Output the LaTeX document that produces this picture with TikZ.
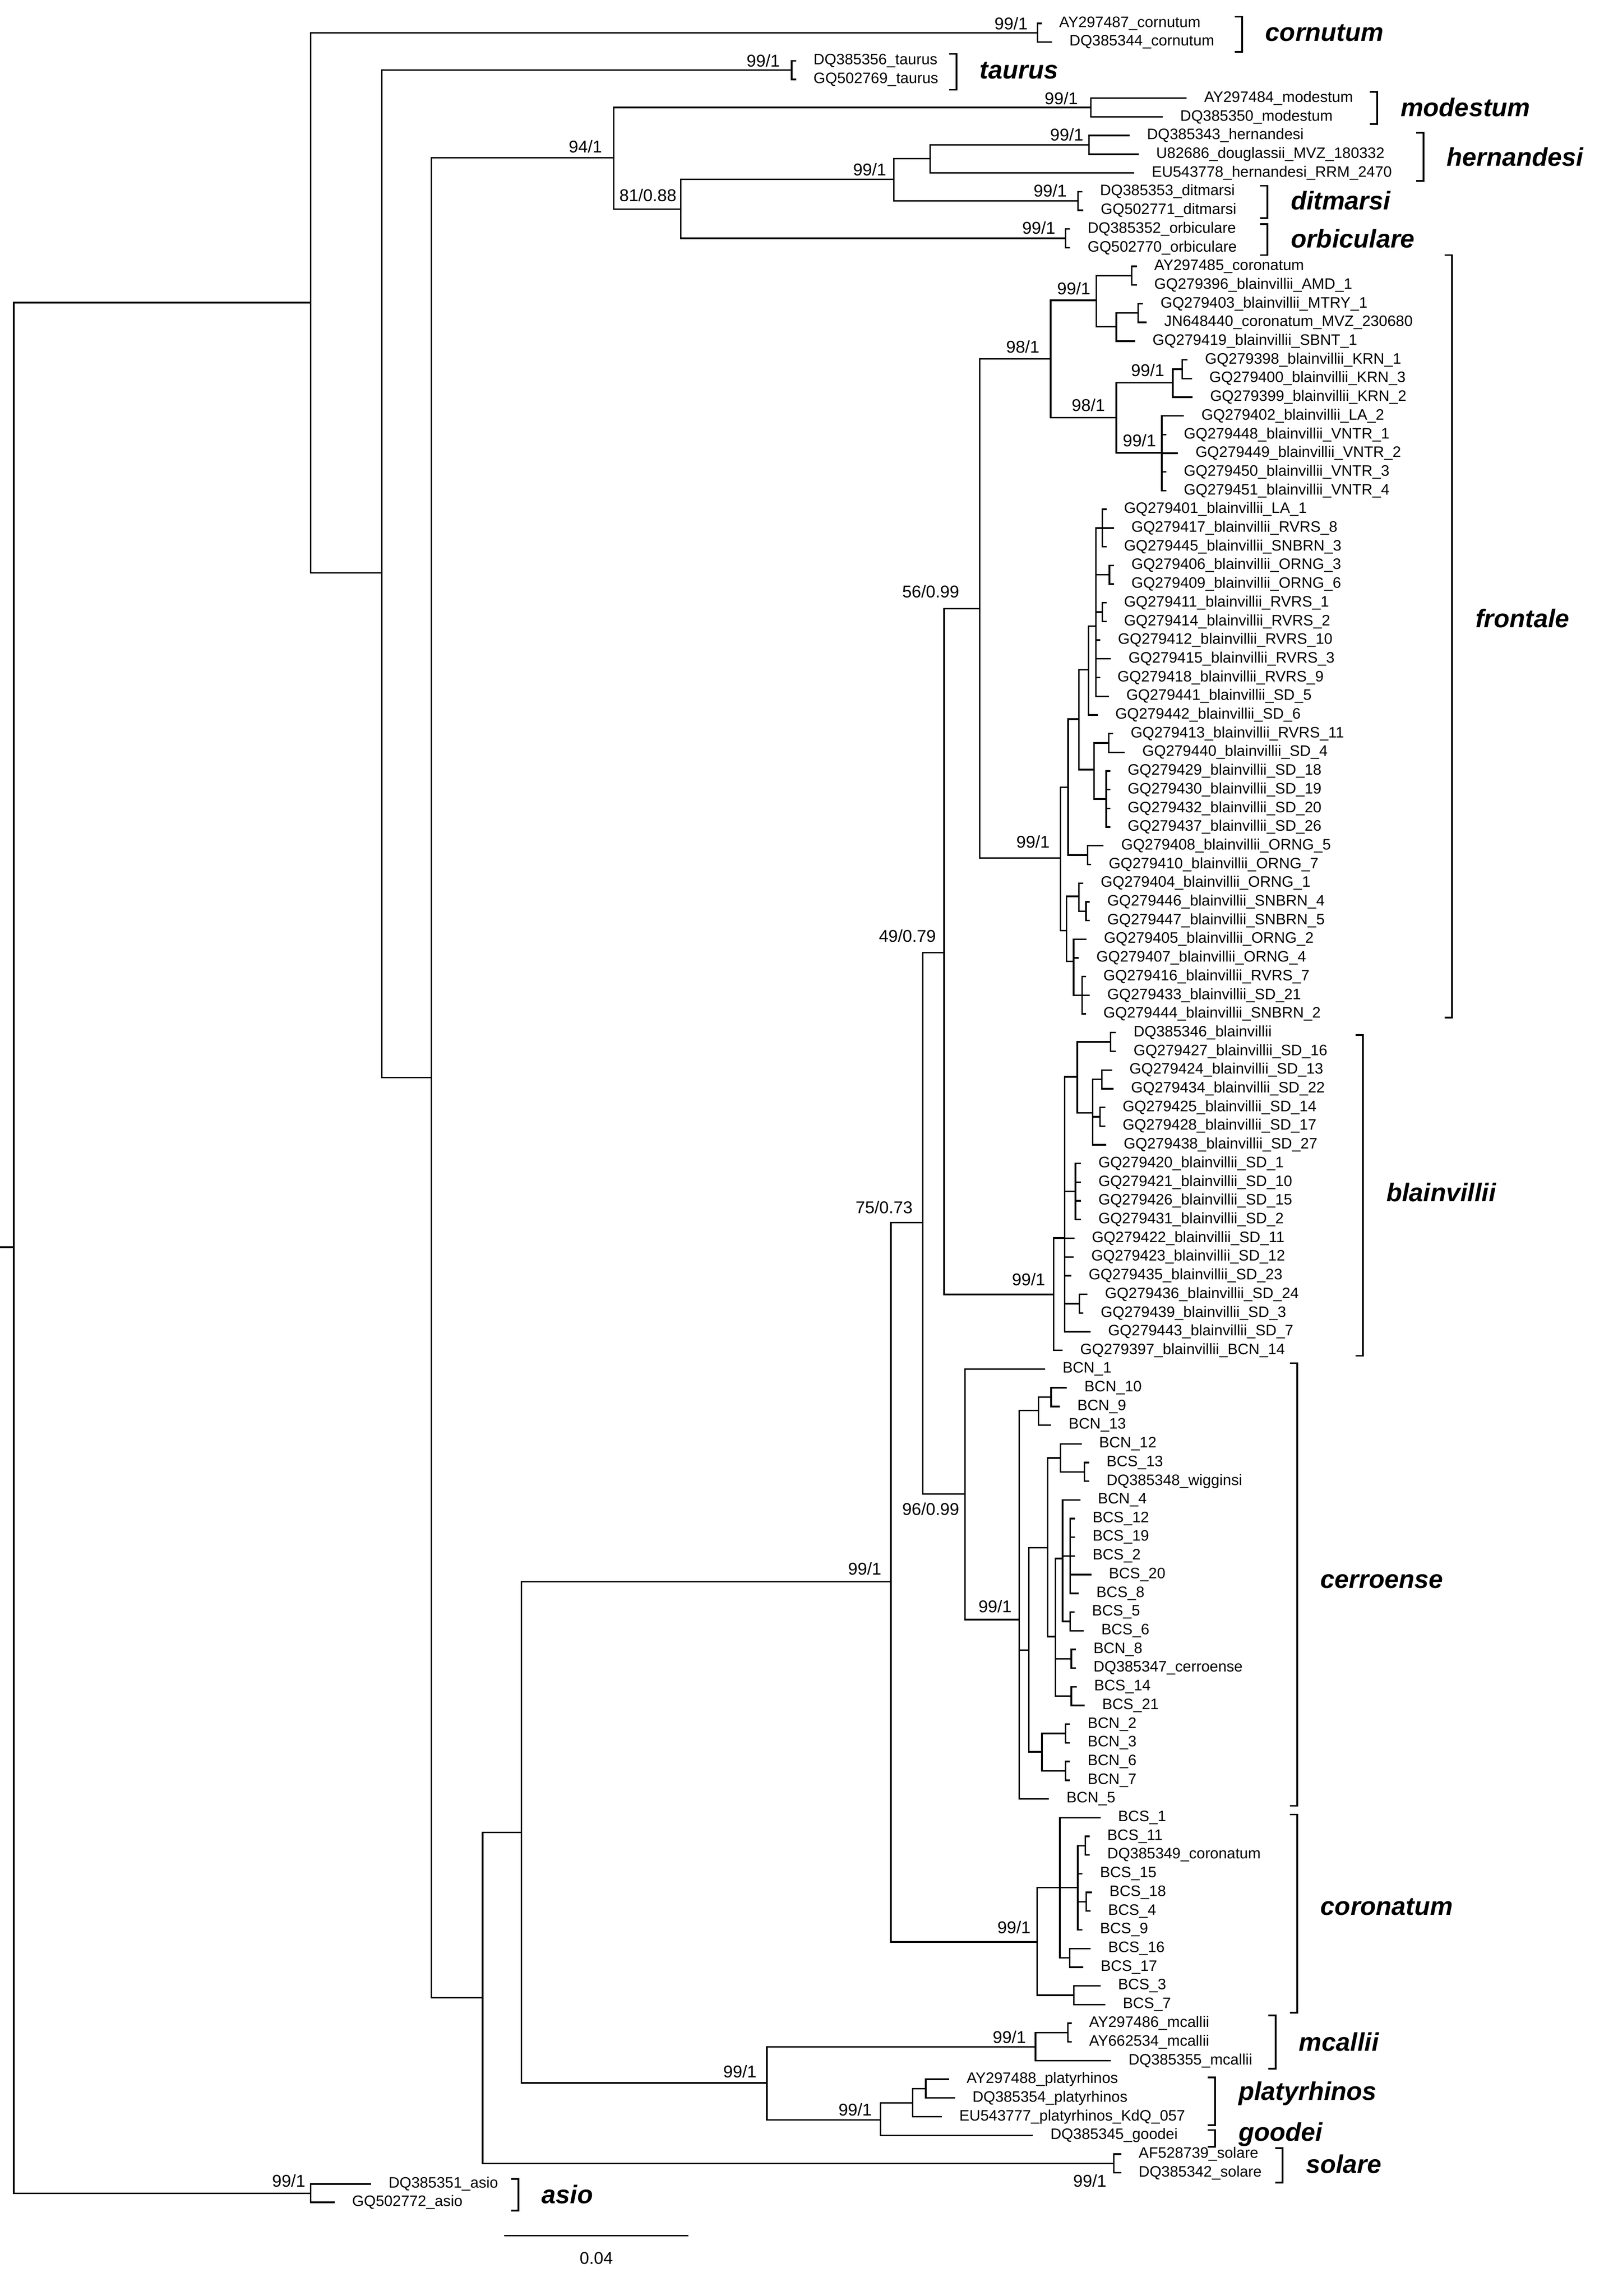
\documentclass[tikz,border=0pt]{standalone}
\usepackage{fontspec}
\setmainfont{Liberation Sans}
\newcommand\leaffont{\fontsize{35.5}{40}\selectfont}
\newcommand\supfont{\fontsize{40}{44}\selectfont}
\newcommand\cladefont{\fontsize{60}{66}\selectfont\bfseries\itshape}
\tikzset{
  br/.style={line width=3.6pt,line cap=rect},
  brk/.style={line width=4pt},
  leaf/.style={anchor=west,inner sep=0pt,font=\leaffont},
  sup/.style={anchor=east,inner sep=0pt,font=\supfont},
  cl/.style={anchor=west,inner sep=0pt,font=\cladefont}
}
\newcommand\tip[5]{\draw[br] (#1) |- ({#2},{L(#3)}); \node[leaf] (#4) at ({#2+12.5},{L(#3)}) {#5};}
\newcommand\ed[2]{\draw[br] (#1) |- (#2);}
\newcommand\clade[6]{\draw[brk] ({#1-5},#2) -- (#1,#2) -- (#1,#3) -- ({#1-5},#3); \node[cl] (#4) at ({#1+16},#5) {#6};}
\begin{document}
\begin{tikzpicture}[x=3.4155pt,y=-3.4155pt,declare function={L(\i)=182.7+12.82*\i;}]
\useasboundingbox (0,0) rectangle (1100,1574.9);
% internal coordinates
\coordinate (R) at (9.5,855.5);
\coordinate (n213) at (213,207.6);
\coordinate (nA) at (213,1504.5);
\coordinate (c1) at (711.6,{L(-12.5)});
\coordinate (n262) at (262,393);
\coordinate (tau) at (543,{L(-10.5)});
\coordinate (n296) at (296,739);
\coordinate (n421) at (421,108.2);
\coordinate (mod) at (748.3,{L(-8.5)});
\coordinate (n467) at (467,143.5);
\coordinate (n613) at (613,123);
\coordinate (orb) at (731,{L(-1.5)});
\coordinate (n638) at (638,108.8);
\coordinate (dit) at (739.4,{L(-3.5)});
\coordinate (her) at (747,{L(-6.5)});
\coordinate (n331) at (331,1370.4);
\coordinate (n357) at (357.6,1257);
\coordinate (sol) at (764,{L(101.5)});
\coordinate (n611) at (611,1085);
\coordinate (n526) at (526,1428.7);
\coordinate (mc) at (710.3,1404);
\coordinate (mc12) at (732.5,{L(94.5)});
\coordinate (n604) at (604,1454);
\coordinate (n626) at (626,1442.4);
\coordinate (n635) at (635,{L(97.5)});
\coordinate (n633) at (633,838.6);
\coordinate (cor) at (711.3,1332);
\coordinate (k1) at (727,1294.7);
\coordinate (k2) at (736.6,{L(92.5)});
\coordinate (k3) at (739.3,1294.7);
\coordinate (k4) at (733.7,{L(90.5)});
\coordinate (k5) at (744.5,{L(84.5)});
\coordinate (k6) at (745,{L(87.5)});
\coordinate (n647) at (647.6,653.5);
\coordinate (n662) at (662,1024.7);
\coordinate (n699) at (699,1110.9);
\coordinate (n712) at (712.4,967.5);
\coordinate (n721) at (721,{L(60.5)});
\coordinate (n706) at (705.7,1131.8);
\coordinate (na) at (718.7,1061.6);
\coordinate (nb) at (714.7,1201.6);
\coordinate (nb12) at (727.4,1000);
\coordinate (nb13) at (743.8,{L(64.5)});
\coordinate (nc) at (724,1122.6);
\coordinate (nd) at (728.8,1069);
\coordinate (np) at (734,{L(69)});
\coordinate (n56) at (734,{L(72.5)});
\coordinate (n8) at (734.8,{L(74.5)});
\coordinate (n14) at (734.8,{L(76.5)});
\coordinate (n23) at (730.8,{L(78.5)});
\coordinate (n67) at (730.8,{L(80.5)});
\coordinate (n672) at (672,417.4);
\coordinate (nbl) at (722.8,887.9);
\coordinate (n720) at (720.7,246.2);
\coordinate (nfr) at (727.5,588.5);
\coordinate (n752) at (752,206);
\coordinate (n765) at (765.7,286.4);
\coordinate (na0) at (776.3,{L(0.5)});
\coordinate (nm) at (765.7,224.2);
\coordinate (nmj) at (780.7,{L(2.5)});
\coordinate (nk) at (804.5,262.6);
\coordinate (nk13) at (811,{L(5.5)});
\coordinate (nv) at (796.9,310.6);
\coordinate (nu) at (732.6,540);
\coordinate (nl) at (731.5,638.3);
\coordinate (ne) at (740,493.3);
\coordinate (no57) at (746,{L(31.5)});
\coordinate (nf) at (746.7,459.4);
\coordinate (ng) at (750.5,527.9);
\coordinate (nh) at (751.6,429.5);
\coordinate (nl13) at (756,{L(14)});
\coordinate (no36) at (761,{L(16.5)});
\coordinate (nr12) at (756,{L(18.5)});
\coordinate (nr11) at (760.6,{L(25.5)});
\coordinate (nsd) at (758.8,{L(28.5)});
\coordinate (n1) at (740,614.8);
\coordinate (n45) at (744.9,{L(34.5)});
\coordinate (n2) at (736.4,659.3);
\coordinate (n7) at (742.2,{L(39)});
\coordinate (nt) at (730.3,849.2);
\coordinate (ni) at (738.9,738.6);
\coordinate (nsd1) at (737.7,{L(49.5)});
\coordinate (n243) at (740.4,{L(55.5)});
\coordinate (n16) at (761.7,{L(41.5)});
\coordinate (nj) at (749.4,763.3);
\coordinate (n1322) at (755.7,{L(43.5)});
\coordinate (n1417) at (754.5,{L(45.5)});
\coordinate (stub) at (0,855.5);
% internal edges
\draw[br] (stub) -- (R);
\ed{R}{n213}\ed{R}{nA}\ed{n213}{c1}\ed{n213}{n262}\ed{n262}{tau}\ed{n262}{n296}
\ed{n296}{n421}\ed{n296}{n331}\ed{n421}{mod}\ed{n421}{n467}\ed{n467}{n613}\ed{n467}{orb}
\ed{n613}{n638}\ed{n613}{dit}\ed{n638}{her}\ed{n331}{n357}\ed{n331}{sol}\ed{n357}{n611}
\ed{n357}{n526}\ed{n526}{mc}\ed{n526}{n604}\ed{mc}{mc12}\ed{n604}{n626}\ed{n626}{n635}
\ed{n611}{n633}\ed{n611}{cor}\ed{cor}{k1}\ed{cor}{k2}\ed{k1}{k3}\ed{k1}{k4}\ed{k3}{k5}\ed{k3}{k6}
\ed{n633}{n647}\ed{n633}{n662}\ed{n662}{n699}\ed{n699}{n712}\ed{n699}{n706}\ed{n712}{n721}
\ed{n706}{na}\ed{n706}{nb}\ed{na}{nb12}\ed{na}{nc}\ed{nb12}{nb13}\ed{nc}{nd}\ed{nc}{n8}\ed{nc}{n14}
\ed{nd}{np}\ed{nd}{n56}\ed{nb}{n23}\ed{nb}{n67}\ed{n647}{n672}\ed{n647}{nbl}\ed{n672}{n720}
\ed{n672}{nfr}\ed{n720}{n752}\ed{n720}{n765}\ed{n752}{na0}\ed{n752}{nm}\ed{nm}{nmj}\ed{n765}{nk}
\ed{n765}{nv}\ed{nk}{nk13}\ed{nfr}{nu}\ed{nfr}{nl}\ed{nu}{ne}\ed{nu}{no57}\ed{ne}{nf}\ed{ne}{ng}
\ed{nf}{nh}\ed{nh}{nl13}\ed{nh}{no36}\ed{nh}{nr12}\ed{ng}{nr11}\ed{ng}{nsd}\ed{nl}{n1}\ed{nl}{n2}
\ed{n1}{n45}\ed{n2}{n7}\ed{nbl}{nt}\ed{nt}{ni}\ed{nt}{nsd1}\ed{nt}{n243}\ed{ni}{n16}\ed{ni}{nj}
\ed{nj}{n1322}\ed{nj}{n1417}
% tips
\tip{c1}{714}{-13}{t1}{AY297487\_cornutum}
\tip{c1}{721}{-12}{t2}{DQ385344\_cornutum}
\tip{tau}{545.5}{-11}{t3}{DQ385356\_taurus}
\tip{tau}{545.5}{-10}{t4}{GQ502769\_taurus}
\tip{mod}{813.4}{-9}{t5}{AY297484\_modestum}
\tip{mod}{797}{-8}{t6}{DQ385350\_modestum}
\tip{her}{774.2}{-7}{t7}{DQ385343\_hernandesi}
\tip{her}{780.5}{-6}{t8}{U82686\_douglassii\_MVZ\_180332}
\tip{n638}{777.5}{-5}{t9}{EU543778\_hernandesi\_RRM\_2470}
\tip{dit}{742}{-4}{t10}{DQ385353\_ditmarsi}
\tip{dit}{742.5}{-3}{t11}{GQ502771\_ditmarsi}
\tip{orb}{733.5}{-2}{t12}{DQ385352\_orbiculare}
\tip{orb}{733.5}{-1}{t13}{GQ502770\_orbiculare}
\tip{na0}{779.2}{0}{f0}{AY297485\_coronatum}
\tip{na0}{779.2}{1}{f1}{GQ279396\_blainvillii\_AMD\_1}
\tip{nmj}{783.5}{2}{f2}{GQ279403\_blainvillii\_MTRY\_1}
\tip{nmj}{786}{3}{f3}{JN648440\_coronatum\_MVZ\_230680}
\tip{nm}{778}{4}{f4}{GQ279419\_blainvillii\_SBNT\_1}
\tip{nk13}{814}{5}{f5}{GQ279398\_blainvillii\_KRN\_1}
\tip{nk13}{817}{6}{f6}{GQ279400\_blainvillii\_KRN\_3}
\tip{nk}{817.5}{7}{f7}{GQ279399\_blainvillii\_KRN\_2}
\tip{nv}{811.5}{8}{f8}{GQ279402\_blainvillii\_LA\_2}
\tip{nv}{799.5}{9}{f9}{GQ279448\_blainvillii\_VNTR\_1}
\tip{nv}{807.5}{10}{f10}{GQ279449\_blainvillii\_VNTR\_2}
\tip{nv}{799.5}{11}{f11}{GQ279450\_blainvillii\_VNTR\_3}
\tip{nv}{799.5}{12}{f12}{GQ279451\_blainvillii\_VNTR\_4}
\tip{nl13}{758.5}{13}{f13}{GQ279401\_blainvillii\_LA\_1}
\tip{nl13}{763.5}{14}{f14}{GQ279417\_blainvillii\_RVRS\_8}
\tip{nl13}{758.5}{15}{f15}{GQ279445\_blainvillii\_SNBRN\_3}
\tip{no36}{763.5}{16}{f16}{GQ279406\_blainvillii\_ORNG\_3}
\tip{no36}{763.5}{17}{f17}{GQ279409\_blainvillii\_ORNG\_6}
\tip{nr12}{758.5}{18}{f18}{GQ279411\_blainvillii\_RVRS\_1}
\tip{nr12}{758.5}{19}{f19}{GQ279414\_blainvillii\_RVRS\_2}
\tip{nh}{754.3}{20}{f20}{GQ279412\_blainvillii\_RVRS\_10}
\tip{nh}{761.5}{21}{f21}{GQ279415\_blainvillii\_RVRS\_3}
\tip{nh}{754}{22}{f22}{GQ279418\_blainvillii\_RVRS\_9}
\tip{nh}{760}{23}{f23}{GQ279441\_blainvillii\_SD\_5}
\tip{nf}{752.5}{24}{f24}{GQ279442\_blainvillii\_SD\_6}
\tip{nr11}{763}{25}{f25}{GQ279413\_blainvillii\_RVRS\_11}
\tip{nr11}{771}{26}{f26}{GQ279440\_blainvillii\_SD\_4}
\tip{nsd}{761}{27}{f27}{GQ279429\_blainvillii\_SD\_18}
\tip{nsd}{761}{28}{f28}{GQ279430\_blainvillii\_SD\_19}
\tip{nsd}{761}{29}{f29}{GQ279432\_blainvillii\_SD\_20}
\tip{nsd}{761}{30}{f30}{GQ279437\_blainvillii\_SD\_26}
\tip{no57}{756.5}{31}{f31}{GQ279408\_blainvillii\_ORNG\_5}
\tip{no57}{748}{32}{f32}{GQ279410\_blainvillii\_ORNG\_7}
\tip{n1}{742.5}{33}{f33}{GQ279404\_blainvillii\_ORNG\_1}
\tip{n45}{747}{34}{f34}{GQ279446\_blainvillii\_SNBRN\_4}
\tip{n45}{747}{35}{f35}{GQ279447\_blainvillii\_SNBRN\_5}
\tip{n2}{744.7}{36}{f36}{GQ279405\_blainvillii\_ORNG\_2}
\tip{n2}{739.5}{37}{f37}{GQ279407\_blainvillii\_ORNG\_4}
\tip{n7}{744.3}{38}{f38}{GQ279416\_blainvillii\_RVRS\_7}
\tip{n7}{747}{39}{f39}{GQ279433\_blainvillii\_SD\_21}
\tip{n7}{744.3}{40}{f40}{GQ279444\_blainvillii\_SNBRN\_2}
\tip{n16}{765}{41}{b41}{DQ385346\_blainvillii}
\tip{n16}{765}{42}{b42}{GQ279427\_blainvillii\_SD\_16}
\tip{n1322}{762.2}{43}{b43}{GQ279424\_blainvillii\_SD\_13}
\tip{n1322}{763.3}{44}{b44}{GQ279434\_blainvillii\_SD\_22}
\tip{n1417}{757.5}{45}{b45}{GQ279425\_blainvillii\_SD\_14}
\tip{n1417}{757.5}{46}{b46}{GQ279428\_blainvillii\_SD\_17}
\tip{nj}{758.2}{47}{b47}{GQ279438\_blainvillii\_SD\_27}
\tip{nsd1}{740.9}{48}{b48}{GQ279420\_blainvillii\_SD\_1}
\tip{nsd1}{740.9}{49}{b49}{GQ279421\_blainvillii\_SD\_10}
\tip{nsd1}{740.9}{50}{b50}{GQ279426\_blainvillii\_SD\_15}
\tip{nsd1}{740.9}{51}{b51}{GQ279431\_blainvillii\_SD\_2}
\tip{nt}{736.4}{52}{b52}{GQ279422\_blainvillii\_SD\_11}
\tip{nt}{736}{53}{b53}{GQ279423\_blainvillii\_SD\_12}
\tip{nt}{734.2}{54}{b54}{GQ279435\_blainvillii\_SD\_23}
\tip{n243}{745.4}{55}{b55}{GQ279436\_blainvillii\_SD\_24}
\tip{n243}{742.5}{56}{b56}{GQ279439\_blainvillii\_SD\_3}
\tip{nt}{747.5}{57}{b57}{GQ279443\_blainvillii\_SD\_7}
\tip{nbl}{728.4}{58}{b58}{GQ279397\_blainvillii\_BCN\_14}
\tip{n662}{716.3}{59}{c59}{BCN\_1}
\tip{n721}{731.3}{60}{c60}{BCN\_10}
\tip{n721}{726.4}{61}{c61}{BCN\_9}
\tip{n712}{720.5}{62}{c62}{BCN\_13}
\tip{nb12}{741.4}{63}{c63}{BCN\_12}
\tip{nb13}{746.5}{64}{c64}{BCS\_13}
\tip{nb13}{746.5}{65}{c65}{DQ385348\_wigginsi}
\tip{nd}{740.5}{66}{c66}{BCN\_4}
\tip{np}{736.9}{67}{c67}{BCS\_12}
\tip{np}{736.9}{68}{c68}{BCS\_19}
\tip{np}{736.9}{69}{c69}{BCS\_2}
\tip{np}{748.1}{70}{c70}{BCS\_20}
\tip{np}{739.5}{71}{c71}{BCS\_8}
\tip{n56}{736.5}{72}{c72}{BCS\_5}
\tip{n56}{742.9}{73}{c73}{BCS\_6}
\tip{n8}{737.5}{74}{c74}{BCN\_8}
\tip{n8}{737.5}{75}{c75}{DQ385347\_cerroense}
\tip{n14}{738}{76}{c76}{BCS\_14}
\tip{n14}{743.5}{77}{c77}{BCS\_21}
\tip{n23}{733.5}{78}{c78}{BCN\_2}
\tip{n23}{733.5}{79}{c79}{BCN\_3}
\tip{n67}{733.5}{80}{c80}{BCN\_6}
\tip{n67}{733.5}{81}{c81}{BCN\_7}
\tip{n699}{719}{82}{c82}{BCN\_5}
\tip{k1}{754.4}{83}{k83}{BCS\_1}
\tip{k5}{747}{84}{k84}{BCS\_11}
\tip{k5}{747}{85}{k85}{DQ385349\_coronatum}
\tip{k3}{742}{86}{k86}{BCS\_15}
\tip{k6}{748.5}{87}{k87}{BCS\_18}
\tip{k6}{747.5}{88}{k88}{BCS\_4}
\tip{k3}{742}{89}{k89}{BCS\_9}
\tip{k4}{747.6}{90}{k90}{BCS\_16}
\tip{k4}{742.5}{91}{k91}{BCS\_17}
\tip{k2}{754.4}{92}{k92}{BCS\_3}
\tip{k2}{757.7}{93}{k93}{BCS\_7}
\tip{mc12}{734.5}{94}{m94}{AY297486\_mcallii}
\tip{mc12}{734.5}{95}{m95}{AY662534\_mcallii}
\tip{mc}{761.5}{96}{m96}{DQ385355\_mcallii}
\tip{n635}{650.5}{97}{p97}{AY297488\_platyrhinos}
\tip{n635}{654.5}{98}{p98}{DQ385354\_platyrhinos}
\tip{n626}{645.5}{99}{p99}{EU543777\_platyrhinos\_KdQ\_057}
\tip{n604}{708}{100}{g100}{DQ385345\_goodei}
\tip{sol}{768.5}{101}{s101}{AF528739\_solare}
\tip{sol}{768.5}{102}{s102}{DQ385342\_solare}
\draw[br] (nA) |- (254,1498); \node[leaf] (a1) at (266.5,1498) {DQ385351\_asio};
\draw[br] (nA) |- (229,1510.6); \node[leaf] (a2) at (241.5,1510.6) {GQ502772\_asio};
% support values
\node[sup] (s1) at (705,16) {99/1};
\node[sup] (s2) at (535,41.6) {99/1};
\node[sup] (s3) at (413,100.6) {94/1};
\node[sup] (s4) at (739.4,67.5) {99/1};
\node[sup] (s5) at (743.2,92.5) {99/1};
\node[sup] (s6) at (464,134) {81/0.88};
\node[sup] (s7) at (608,116.3) {99/1};
\node[sup] (s8) at (731.8,130.7) {99/1};
\node[sup] (s9) at (724,156.2) {99/1};
\node[sup] (s10) at (748,198) {99/1};
\node[sup] (s11) at (713,237.8) {98/1};
\node[sup] (s12) at (758,278) {98/1};
\node[sup] (s13) at (798.7,254) {99/1};
\node[sup] (s14) at (793,302) {99/1};
\node[sup] (s15) at (658,405.7) {56/0.99};
\node[sup] (s16) at (720,577.3) {99/1};
\node[sup] (s17) at (642,642) {49/0.79};
\node[sup] (s18) at (717,877.6) {99/1};
\node[sup] (s19) at (626,828) {75/0.73};
\node[sup] (s20) at (658,1035) {96/0.99};
\node[sup] (s21) at (694,1102) {99/1};
\node[sup] (s22) at (604.6,1076) {99/1};
\node[sup] (s23) at (707,1322) {99/1};
\node[sup] (s24) at (703.8,1397.2) {99/1};
\node[sup] (s25) at (519,1421) {99/1};
\node[sup] (s26) at (598,1447) {99/1};
\node[sup] (s27) at (759,1496) {99/1};
\node[sup] (s28) at (209.5,1496) {99/1};
% clade brackets
\clade{852}{11.5}{35.5}{q1}{22.5}{cornutum}
\clade{656}{37}{61.6}{q2}{48.5}{taurus}
\clade{944.7}{63}{85}{q3}{73.5}{modestum}
\clade{976.4}{91}{124}{q4}{107.5}{hernandesi}
\clade{869.4}{127.4}{149.7}{q5}{137.5}{ditmarsi}
\clade{869.4}{153.6}{175}{q6}{163.5}{orbiculare}
\clade{996}{175}{698}{q7}{424}{frontale}
\clade{934.9}{710}{930}{q8}{818}{blainvillii}
\clade{889.8}{935}{1238.6}{q9}{1084.6}{cerroense}
\clade{889.8}{1244.6}{1380.6}{q10}{1308}{coronatum}
\clade{875}{1382.5}{1419}{q11}{1400.6}{mcallii}
\clade{833.5}{1425}{1457.6}{q12}{1436}{platyrhinos}
\clade{833.5}{1461}{1472.5}{q13}{1464}{goodei}
\clade{879.8}{1473.5}{1497}{q14}{1484.5}{solare}
\clade{355.5}{1494.5}{1516.4}{q15}{1505}{asio}
% scale bar
\coordinate (sb1) at (346,1533.4);
\coordinate (sb2) at (472,1533.4);
\draw[br,line cap=butt] (sb1) -- (sb2);
\node[inner sep=0pt,font=\supfont] (sbl) at (409,1549) {0.04};
\end{tikzpicture}
\end{document}
